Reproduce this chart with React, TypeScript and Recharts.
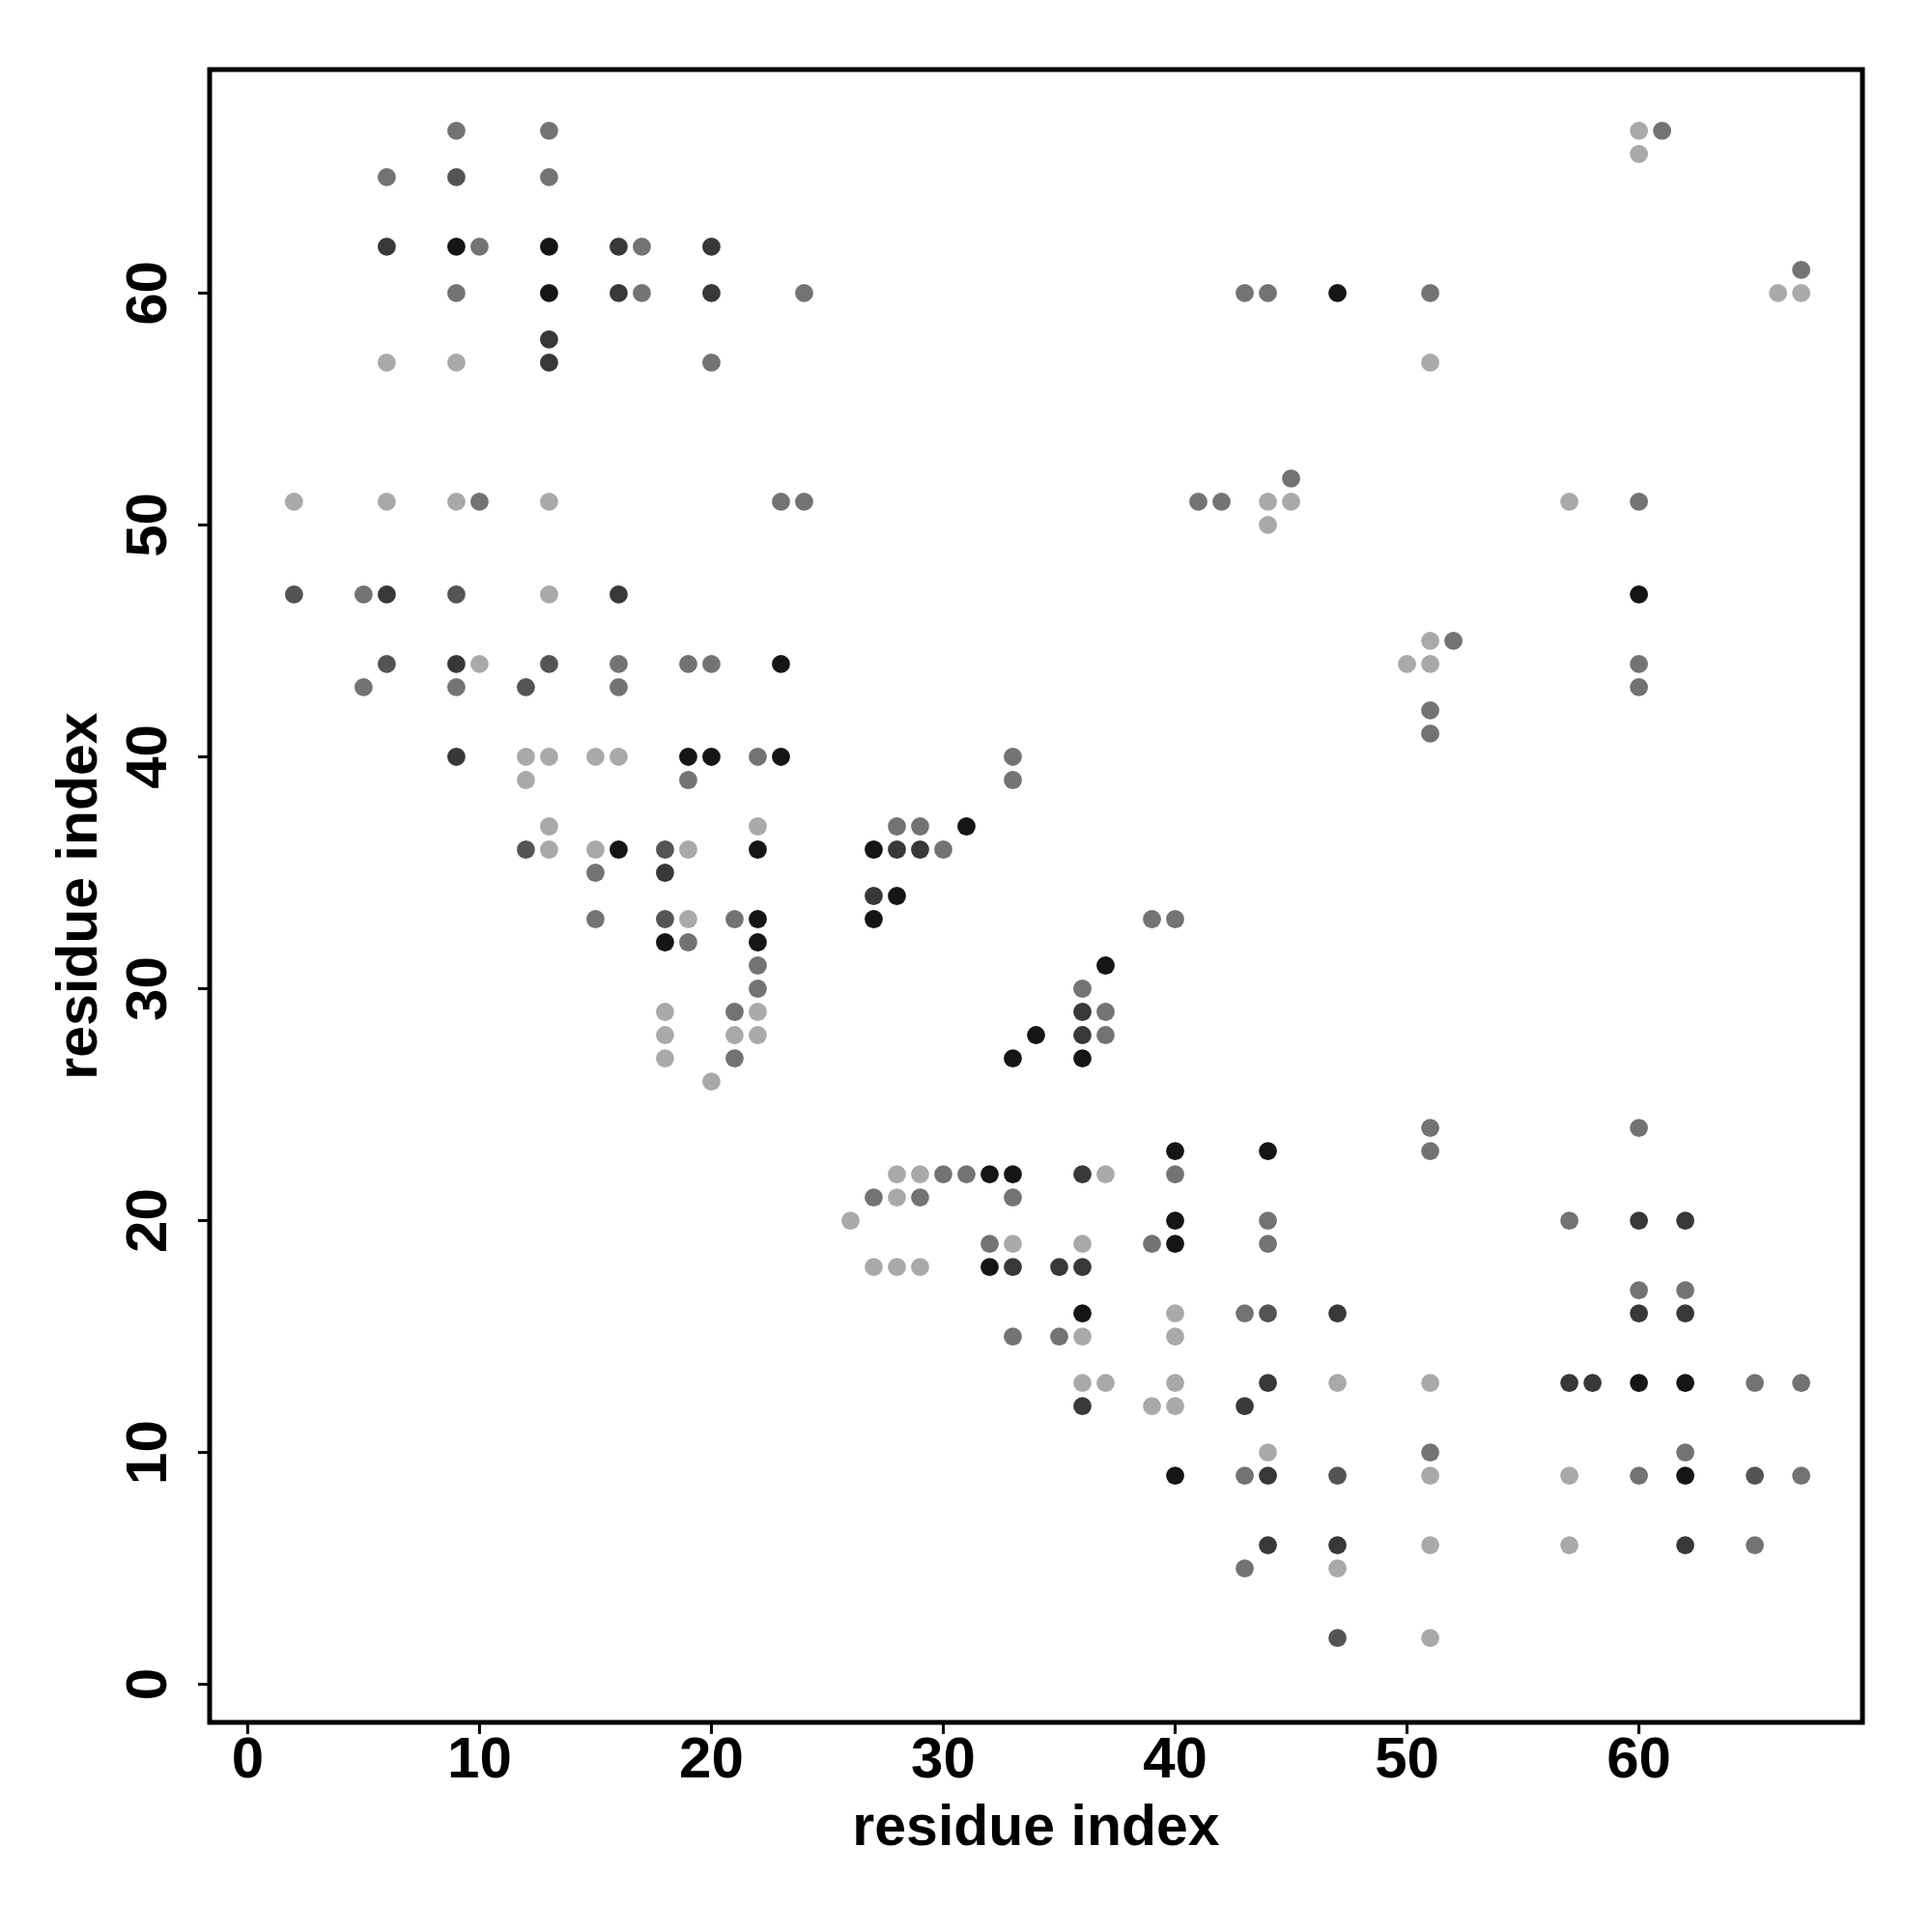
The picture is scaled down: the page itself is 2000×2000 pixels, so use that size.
import React from 'react';
import {
  ScatterChart,
  Scatter,
  XAxis,
  YAxis,
  ReferenceArea,
  Label,
} from 'recharts';

// contact pairs (residue i, residue j), grouped by how dark the dot is
const strongest: [number, number][] = [
  [9, 62], [13, 62], [13, 60], [47, 60], [60, 47], [23, 44], [19, 40], [20, 40], [23, 40],
  [16, 36], [22, 36], [27, 36], [22, 33], [27, 33], [18, 32], [22, 32], [28, 34], [31, 37],
  [37, 31], [34, 28], [33, 27], [36, 27], [40, 23], [44, 23], [32, 22], [33, 22], [40, 20],
  [40, 19], [32, 18], [36, 16], [60, 13], [62, 13], [62, 9], [40, 9],
];
const strong: [number, number][] = [
  [6, 62], [16, 62], [20, 62], [16, 60], [20, 60], [13, 58], [13, 57], [16, 47], [6, 47],
  [9, 44], [9, 40], [18, 35], [28, 36], [29, 36], [27, 34], [36, 29], [36, 28], [36, 22],
  [35, 18], [33, 18], [36, 18], [36, 12], [43, 12], [44, 13], [44, 9], [44, 6], [47, 16],
  [47, 6], [60, 20], [62, 20], [60, 16], [62, 16], [57, 13], [58, 13], [62, 6],
];
const medium: [number, number][] = [
  [9, 65], [2, 47], [9, 47], [6, 44], [13, 44], [12, 43], [12, 36], [18, 36], [18, 33],
  [44, 16], [47, 9], [65, 9], [47, 2],
];
const weak: [number, number][] = [
  [9, 67], [13, 67], [61, 67], [6, 65], [13, 65], [10, 62], [17, 62], [9, 60], [17, 60],
  [24, 60], [43, 60], [44, 60], [51, 60], [67, 61], [20, 57], [45, 52], [10, 51], [23, 51],
  [24, 51], [41, 51], [42, 51], [60, 51], [5, 47], [52, 45], [16, 44], [19, 44], [20, 44],
  [60, 44], [5, 43], [9, 43], [16, 43], [60, 43], [51, 42], [51, 41], [22, 40], [33, 40],
  [19, 39], [33, 39], [28, 37], [29, 37], [30, 36], [15, 35], [15, 33], [21, 33], [39, 33],
  [40, 33], [19, 32], [22, 31], [22, 30], [36, 30], [21, 29], [37, 29], [37, 28], [21, 27],
  [51, 24], [60, 24], [51, 23], [30, 22], [31, 22], [40, 22], [27, 21], [29, 21], [33, 21],
  [44, 20], [57, 20], [32, 19], [39, 19], [44, 19], [60, 17], [62, 17], [43, 16], [33, 15],
  [35, 15], [65, 13], [67, 13], [51, 10], [62, 10], [43, 9], [60, 9], [67, 9], [65, 6], [43, 5],
];
const weakest: [number, number][] = [
  [60, 67], [60, 66], [66, 60], [67, 60], [6, 57], [9, 57], [51, 57], [2, 51], [6, 51],
  [9, 51], [13, 51], [44, 51], [45, 51], [57, 51], [44, 50], [13, 47], [51, 45], [10, 44],
  [50, 44], [51, 44], [12, 40], [13, 40], [15, 40], [16, 40], [12, 39], [13, 37], [22, 37],
  [13, 36], [15, 36], [19, 36], [19, 33], [18, 29], [22, 29], [18, 28], [21, 28], [22, 28],
  [18, 27], [20, 26], [28, 22], [29, 22], [37, 22], [28, 21], [26, 20], [33, 19], [36, 19],
  [27, 18], [28, 18], [29, 18], [40, 16], [36, 15], [40, 15], [36, 13], [37, 13], [40, 13],
  [47, 13], [51, 13], [39, 12], [40, 12], [44, 10], [51, 9], [57, 9], [51, 6], [57, 6],
  [47, 5], [51, 2],
];

const ticks = [0, 10, 20, 30, 40, 50, 60];
const axisMin = -1.64;
const axisMax = 69.64;

const FONT = '"Liberation Sans", Arial, Helvetica, sans-serif';

const toPoints = (pairs: [number, number][]) => pairs.map(([x, y]) => ({ x, y }));

const series = [
  { name: 'strongest', data: toPoints(strongest), fill: '#151515' },
  { name: 'strong', data: toPoints(strong), fill: '#383838' },
  { name: 'medium', data: toPoints(medium), fill: '#545454' },
  { name: 'weak', data: toPoints(weak), fill: '#737373' },
  { name: 'weakest', data: toPoints(weakest), fill: '#a9a9a9' },
];

function Dot(props: any) {
  const { cx, cy, fill } = props;
  if (cx == null || cy == null) return null;
  return <circle cx={cx} cy={cy} r={9.4} fill={fill} />;
}

function XTick(props: any) {
  const { x, y, payload } = props;
  return (
    <text
      x={x}
      y={y}
      dy={43}
      textAnchor="middle"
      fontFamily={FONT}
      fontWeight="bold"
      fontSize={60}
      fill="#000"
    >
      {payload.value}
    </text>
  );
}

function YTick(props: any) {
  const { x, y, payload } = props;
  return (
    <text
      x={x}
      y={y}
      transform={`rotate(-90, ${x}, ${y})`}
      textAnchor="middle"
      fontFamily={FONT}
      fontWeight="bold"
      fontSize={60}
      fill="#000"
    >
      {payload.value}
    </text>
  );
}

function XTitle(props: any) {
  const { viewBox } = props;
  return (
    <text
      x={viewBox.x + viewBox.width / 2}
      y={viewBox.y + 127}
      textAnchor="middle"
      fontFamily={FONT}
      fontWeight="bold"
      fontSize={59}
      fill="#000"
    >
      residue index
    </text>
  );
}

function YTitle(props: any) {
  const { viewBox } = props;
  const cx = 100;
  const cy = viewBox.y + viewBox.height / 2;
  return (
    <text
      x={cx}
      y={cy}
      transform={`rotate(-90, ${cx}, ${cy})`}
      textAnchor="middle"
      fontFamily={FONT}
      fontWeight="bold"
      fontSize={59}
      fill="#000"
    >
      residue index
    </text>
  );
}

export default function App() {
  return (
    <div style={{ position: 'absolute', left: 0, top: 0, width: 2000, height: 2000, background: '#fff' }}>
      <ScatterChart width={2000} height={2000} margin={{ top: 72, right: 72, bottom: 0, left: 0 }}>
        <XAxis
          type="number"
          dataKey="x"
          domain={[axisMin, axisMax]}
          ticks={ticks}
          allowDataOverflow
          height={217}
          axisLine={false}
          tickLine={{ stroke: '#000', strokeWidth: 3 }}
          tickSize={12}
          tickMargin={2}
          tick={<XTick />}
          interval={0}
        >
          <Label content={<XTitle />} />
        </XAxis>
        <YAxis
          type="number"
          dataKey="y"
          domain={[axisMin, axisMax]}
          ticks={ticks}
          allowDataOverflow
          width={217}
          axisLine={false}
          tickLine={{ stroke: '#000', strokeWidth: 3 }}
          tickSize={12}
          tickMargin={33}
          tick={<YTick />}
          interval={0}
        >
          <Label content={<YTitle />} />
        </YAxis>
        <ReferenceArea
          x1={axisMin}
          x2={axisMax}
          y1={axisMin}
          y2={axisMax}
          fill="none"
          fillOpacity={0}
          stroke="#000"
          strokeWidth={5}
          ifOverflow="visible"
        />
        {series.map((s) => (
          <Scatter
            key={s.name}
            name={s.name}
            data={s.data}
            fill={s.fill}
            shape={<Dot />}
            isAnimationActive={false}
          />
        ))}
      </ScatterChart>
    </div>
  );
}
